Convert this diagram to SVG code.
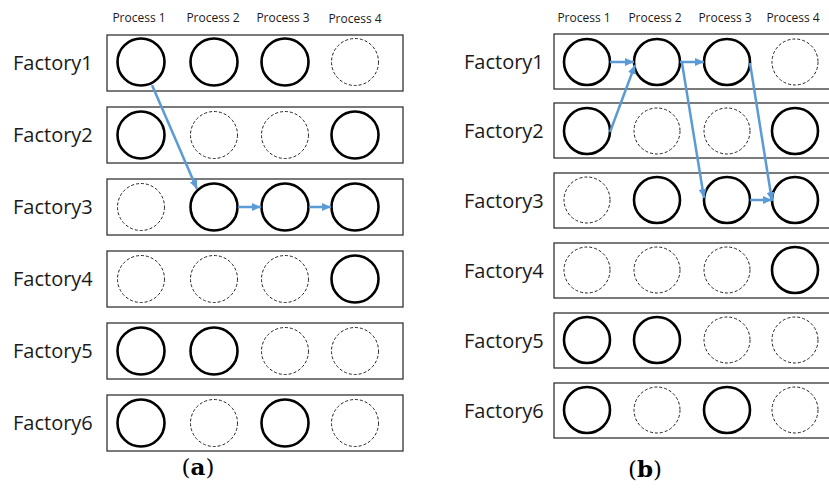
<svg xmlns="http://www.w3.org/2000/svg" width="829" height="489" viewBox="0 0 829 489">
<style>
.bx{fill:#fff;stroke:#333;stroke-width:1.3}
.on{fill:none;stroke:#000;stroke-width:2.6}
.off{fill:none;stroke:#222;stroke-width:1;stroke-dasharray:3 2}
.fl{font-family:"Open Sans","Noto Sans",sans-serif;font-size:20px;fill:#1a1a1a}
.pl{font-family:"Open Sans","Noto Sans",sans-serif;font-size:12px;fill:#1a1a1a;text-anchor:middle}
.cap{font-family:"DejaVu Serif","Liberation Serif",serif;font-size:23px;fill:#000;text-anchor:middle}
.ar{stroke:#5B9BD5;stroke-width:2.5;fill:none;marker-end:url(#ah)}
</style>
<defs>
<marker id="ah" markerUnits="userSpaceOnUse" markerWidth="9" markerHeight="8" viewBox="0 0 9 8" refX="9" refY="4" orient="auto">
<path d="M0,0 L9,4 L0,8 z" fill="#5B9BD5"/>
</marker>
</defs>
<rect width="829" height="489" fill="#fff"/>

<g id="panel-a">
<g id="a-headers">
<text class="pl" x="139" y="22">Process 1</text>
<text class="pl" x="213" y="22">Process 2</text>
<text class="pl" x="283" y="22">Process 3</text>
<text class="pl" x="355" y="23">Process 4</text>
</g>
<g id="a-factory1">
<rect class="bx" x="107" y="35" width="296" height="56"/>
<text class="fl" x="13" y="70">Factory1</text>
<circle class="on" cx="141" cy="62" r="23.5"/>
<circle class="on" cx="214" cy="62" r="23.5"/>
<circle class="on" cx="285" cy="62" r="23.5"/>
<circle class="off" cx="355" cy="62" r="23.5"/>
</g>
<g id="a-factory2">
<rect class="bx" x="107" y="107" width="296" height="56"/>
<text class="fl" x="13" y="142">Factory2</text>
<circle class="on" cx="141" cy="135" r="23.5"/>
<circle class="off" cx="214" cy="135" r="23.5"/>
<circle class="off" cx="285" cy="135" r="23.5"/>
<circle class="on" cx="355" cy="135" r="23.5"/>
</g>
<g id="a-factory3">
<rect class="bx" x="107" y="179" width="296" height="56"/>
<text class="fl" x="13" y="214">Factory3</text>
<circle class="off" cx="141" cy="207" r="23.5"/>
<circle class="on" cx="214" cy="207" r="23.5"/>
<circle class="on" cx="285" cy="207" r="23.5"/>
<circle class="on" cx="355" cy="207" r="23.5"/>
</g>
<g id="a-factory4">
<rect class="bx" x="107" y="251" width="296" height="56"/>
<text class="fl" x="13" y="286">Factory4</text>
<circle class="off" cx="141" cy="279" r="23.5"/>
<circle class="off" cx="214" cy="279" r="23.5"/>
<circle class="off" cx="285" cy="279" r="23.5"/>
<circle class="on" cx="355" cy="279" r="23.5"/>
</g>
<g id="a-factory5">
<rect class="bx" x="107" y="323" width="296" height="56"/>
<text class="fl" x="13" y="358">Factory5</text>
<circle class="on" cx="141" cy="351" r="23.5"/>
<circle class="on" cx="214" cy="351" r="23.5"/>
<circle class="off" cx="285" cy="351" r="23.5"/>
<circle class="off" cx="355" cy="351" r="23.5"/>
</g>
<g id="a-factory6">
<rect class="bx" x="107" y="395" width="296" height="56"/>
<text class="fl" x="13" y="430">Factory6</text>
<circle class="on" cx="141" cy="423" r="23.5"/>
<circle class="off" cx="214" cy="423" r="23.5"/>
<circle class="on" cx="285" cy="423" r="23.5"/>
<circle class="off" cx="355" cy="423" r="23.5"/>
</g>
<g id="a-connectors">
<line class="ar" x1="152" y1="85" x2="197" y2="189"/>
<line class="ar" x1="238" y1="207" x2="261" y2="207"/>
<line class="ar" x1="309" y1="207" x2="331" y2="207"/>
</g>
<text class="cap" x="198" y="475">(<tspan font-weight="bold">a</tspan>)</text>
</g>

<g id="panel-b">
<g id="b-headers">
<text class="pl" x="584" y="22">Process 1</text>
<text class="pl" x="655" y="22">Process 2</text>
<text class="pl" x="725" y="22">Process 3</text>
<text class="pl" x="793" y="22">Process 4</text>
</g>
<g id="b-factory1">
<rect class="bx" x="554" y="34" width="290" height="55"/>
<text class="fl" x="464" y="69">Factory1</text>
<circle class="on" cx="587" cy="62" r="23"/>
<circle class="on" cx="657" cy="62" r="23"/>
<circle class="on" cx="727" cy="62" r="23"/>
<circle class="off" cx="795" cy="62" r="23"/>
</g>
<g id="b-factory2">
<rect class="bx" x="554" y="103" width="290" height="55"/>
<text class="fl" x="464" y="138">Factory2</text>
<circle class="on" cx="587" cy="131" r="23"/>
<circle class="off" cx="657" cy="131" r="23"/>
<circle class="off" cx="727" cy="131" r="23"/>
<circle class="on" cx="795" cy="131" r="23"/>
</g>
<g id="b-factory3">
<rect class="bx" x="554" y="173" width="290" height="55"/>
<text class="fl" x="464" y="208">Factory3</text>
<circle class="off" cx="587" cy="200" r="23"/>
<circle class="on" cx="657" cy="200" r="23"/>
<circle class="on" cx="727" cy="200" r="23"/>
<circle class="on" cx="795" cy="200" r="23"/>
</g>
<g id="b-factory4">
<rect class="bx" x="554" y="243" width="290" height="55"/>
<text class="fl" x="464" y="278">Factory4</text>
<circle class="off" cx="587" cy="270" r="23"/>
<circle class="off" cx="657" cy="270" r="23"/>
<circle class="off" cx="727" cy="270" r="23"/>
<circle class="on" cx="795" cy="270" r="23"/>
</g>
<g id="b-factory5">
<rect class="bx" x="554" y="313" width="290" height="55"/>
<text class="fl" x="464" y="348">Factory5</text>
<circle class="on" cx="587" cy="340" r="23"/>
<circle class="on" cx="657" cy="340" r="23"/>
<circle class="off" cx="727" cy="340" r="23"/>
<circle class="off" cx="795" cy="340" r="23"/>
</g>
<g id="b-factory6">
<rect class="bx" x="554" y="383" width="290" height="55"/>
<text class="fl" x="464" y="418">Factory6</text>
<circle class="on" cx="587" cy="410" r="23"/>
<circle class="off" cx="657" cy="410" r="23"/>
<circle class="on" cx="727" cy="410" r="23"/>
<circle class="off" cx="795" cy="410" r="23"/>
</g>
<g id="b-connectors">
<line class="ar" x1="610" y1="62" x2="634" y2="62"/>
<line class="ar" x1="610" y1="132" x2="635" y2="65"/>
<line class="ar" x1="680" y1="62" x2="704" y2="62"/>
<line class="ar" x1="682" y1="63" x2="704" y2="198"/>
<line class="ar" x1="750" y1="63" x2="772" y2="201"/>
<line class="ar" x1="750" y1="200" x2="772" y2="200"/>
</g>
<text class="cap" x="645" y="477">(<tspan font-weight="bold">b</tspan>)</text>
</g>
</svg>
